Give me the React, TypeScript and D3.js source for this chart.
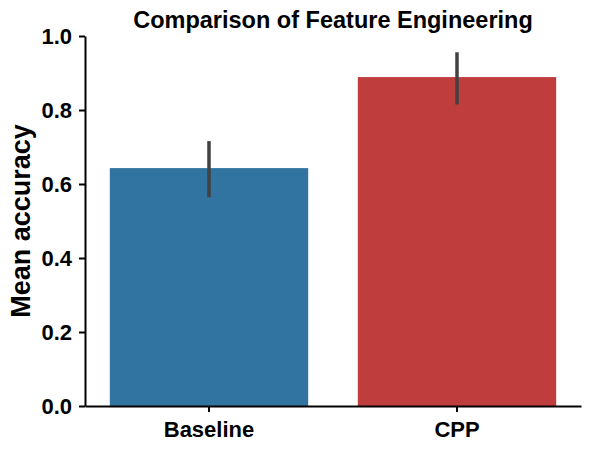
import { useEffect, useRef } from "react";
import * as d3 from "d3";

const CATEGORIES = ["Baseline", "CPP"];
const MEANS = [0.643, 0.889];
const CI_LOW = [0.564, 0.815];
const CI_HIGH = [0.716, 0.956];
const BAR_COLORS = ["#3274a1", "#c03d3e"];
const Y_TICKS = [0, 0.2, 0.4, 0.6, 0.8, 1.0];

export default function App() {
  const svgRef = useRef<SVGSVGElement>(null);

  useEffect(() => {
    if (!svgRef.current) return;
    const svg = d3.select(svgRef.current);
    svg.selectAll("*").remove();

    const W = 590;
    const H = 449;
    const margin = { top: 36, right: 9, bottom: 43, left: 85 };
    const width = W - margin.left - margin.right;
    const height = H - margin.top - margin.bottom;
    const font = "'Liberation Sans', Arial, sans-serif";

    svg.attr("width", W).attr("height", H);

    const g = svg.append("g").attr("transform", `translate(${margin.left},${margin.top})`);

    const x = d3.scaleBand().domain(CATEGORIES).range([0, width]).paddingInner(0.2).paddingOuter(0.1);
    const y = d3.scaleLinear().domain([0, 1]).range([height, 0]);

    // bars
    g.selectAll(".bar")
      .data(CATEGORIES)
      .enter()
      .append("rect")
      .attr("x", d => x(d)!)
      .attr("width", x.bandwidth())
      .attr("y", (d, i) => y(MEANS[i]))
      .attr("height", (d, i) => height - y(MEANS[i]))
      .attr("fill", (d, i) => BAR_COLORS[i]);

    // error bars
    g.selectAll(".err")
      .data(CATEGORIES)
      .enter()
      .append("line")
      .attr("x1", d => x(d)! + x.bandwidth() / 2)
      .attr("x2", d => x(d)! + x.bandwidth() / 2)
      .attr("y1", (d, i) => y(CI_LOW[i]))
      .attr("y2", (d, i) => y(CI_HIGH[i]))
      .attr("stroke", "#424242")
      .attr("stroke-width", 3.5);

    // axes
    const xAxis = g.append("g")
      .attr("transform", `translate(0,${height})`)
      .call(d3.axisBottom(x).tickSize(6).tickSizeOuter(0));
    xAxis.select(".domain").attr("stroke", "#000").attr("stroke-width", 2);
    xAxis.selectAll(".tick line").attr("stroke", "#000").attr("stroke-width", 2);
    xAxis.selectAll(".tick text")
      .attr("dy", "0")
      .attr("y", 31)
      .style("font-family", font)
      .style("font-size", "22px")
      .style("font-weight", "bold")
      .attr("fill", "#000");

    const yAxis = g.append("g")
      .call(d3.axisLeft(y).tickValues(Y_TICKS).tickFormat(d3.format(".1f")).tickSize(6).tickSizeOuter(0));
    yAxis.select(".domain").attr("stroke", "#000").attr("stroke-width", 2);
    yAxis.selectAll(".tick line").attr("stroke", "#000").attr("stroke-width", 2);
    yAxis.selectAll(".tick text")
      .attr("x", -13)
      .attr("dy", "0.35em")
      .style("font-family", font)
      .style("font-size", "22px")
      .style("font-weight", "bold")
      .attr("fill", "#000");

    // title
    svg.append("text")
      .attr("x", margin.left + width / 2)
      .attr("y", 28)
      .attr("text-anchor", "middle")
      .style("font-family", font)
      .style("font-size", "23.5px")
      .style("font-weight", "bold")
      .text("Comparison of Feature Engineering");

    // y label
    svg.append("text")
      .attr("transform", `translate(30,221) rotate(-90)`)
      .attr("text-anchor", "middle")
      .style("font-family", font)
      .style("font-size", "27px")
      .style("font-weight", "bold")
      .text("Mean accuracy");
  }, []);

  return (
    <div style={{ margin: -8 }}>
      <svg ref={svgRef}></svg>
    </div>
  );
}
